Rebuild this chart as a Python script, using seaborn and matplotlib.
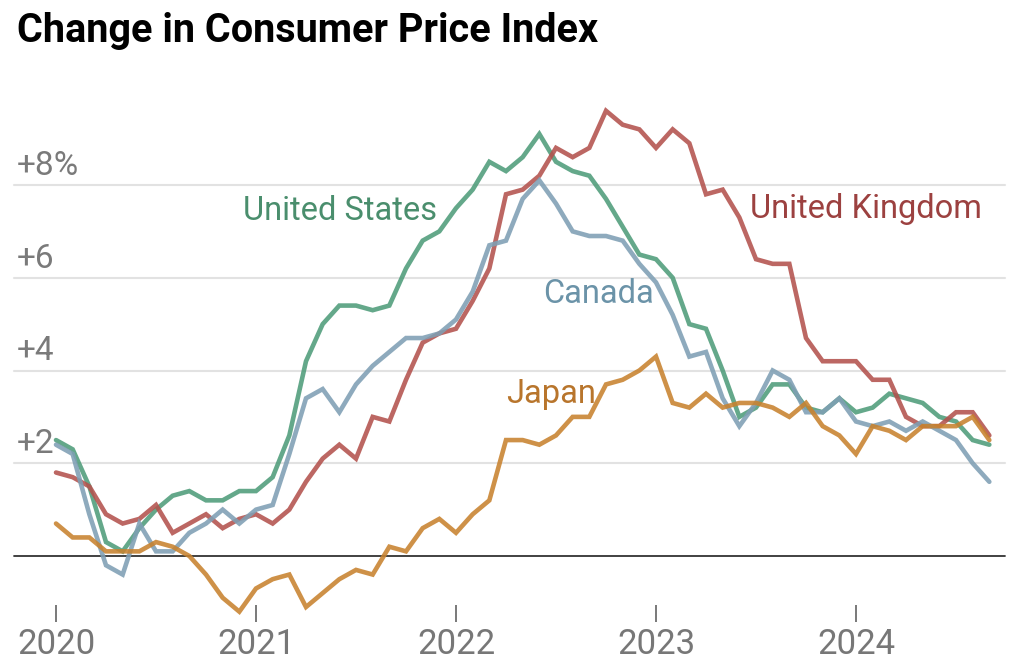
import numpy as np
import pandas as pd
import matplotlib
matplotlib.use("Agg")
import matplotlib.pyplot as plt
import matplotlib.transforms as mtransforms
from matplotlib import font_manager
import seaborn as sns

# ---------------- data (monthly, Jan 2020 - Sep 2024, % change y/y) ----------------
start_year = 2020
n_months = 57
united_states = [2.5, 2.3, 1.5, 0.3, 0.1, 0.6, 1.0, 1.3, 1.4, 1.2, 1.2, 1.4,
                 1.4, 1.7, 2.6, 4.2, 5.0, 5.4, 5.4, 5.3, 5.4, 6.2, 6.8, 7.0,
                 7.5, 7.9, 8.5, 8.3, 8.6, 9.1, 8.5, 8.3, 8.2, 7.7, 7.1, 6.5,
                 6.4, 6.0, 5.0, 4.9, 4.0, 3.0, 3.2, 3.7, 3.7, 3.2, 3.1, 3.4,
                 3.1, 3.2, 3.5, 3.4, 3.3, 3.0, 2.9, 2.5, 2.4]
united_kingdom = [1.8, 1.7, 1.5, 0.9, 0.7, 0.8, 1.1, 0.5, 0.7, 0.9, 0.6, 0.8,
                  0.9, 0.7, 1.0, 1.6, 2.1, 2.4, 2.1, 3.0, 2.9, 3.8, 4.6, 4.8,
                  4.9, 5.5, 6.2, 7.8, 7.9, 8.2, 8.8, 8.6, 8.8, 9.6, 9.3, 9.2,
                  8.8, 9.2, 8.9, 7.8, 7.9, 7.3, 6.4, 6.3, 6.3, 4.7, 4.2, 4.2,
                  4.2, 3.8, 3.8, 3.0, 2.8, 2.8, 3.1, 3.1, 2.6]
canada = [2.4, 2.2, 0.9, -0.2, -0.4, 0.7, 0.1, 0.1, 0.5, 0.7, 1.0, 0.7,
          1.0, 1.1, 2.2, 3.4, 3.6, 3.1, 3.7, 4.1, 4.4, 4.7, 4.7, 4.8,
          5.1, 5.7, 6.7, 6.8, 7.7, 8.1, 7.6, 7.0, 6.9, 6.9, 6.8, 6.3,
          5.9, 5.2, 4.3, 4.4, 3.4, 2.8, 3.3, 4.0, 3.8, 3.1, 3.1, 3.4,
          2.9, 2.8, 2.9, 2.7, 2.9, 2.7, 2.5, 2.0, 1.6]
japan = [0.7, 0.4, 0.4, 0.1, 0.1, 0.1, 0.3, 0.2, 0.0, -0.4, -0.9, -1.2,
         -0.7, -0.5, -0.4, -1.1, -0.8, -0.5, -0.3, -0.4, 0.2, 0.1, 0.6, 0.8,
         0.5, 0.9, 1.2, 2.5, 2.5, 2.4, 2.6, 3.0, 3.0, 3.7, 3.8, 4.0,
         4.3, 3.3, 3.2, 3.5, 3.2, 3.3, 3.3, 3.2, 3.0, 3.3, 2.8, 2.6,
         2.2, 2.8, 2.7, 2.5, 2.8, 2.8, 2.8, 3.0, 2.5]

countries = ["United States", "United Kingdom", "Canada", "Japan"]
series = [united_states, united_kingdom, canada, japan]
line_colors = ["#4f9c7a", "#b3524d", "#7f9fb4", "#c8822e"]
label_colors = ["#4a8e6d", "#9c4140", "#6b93a8", "#b8752c"]
year_ticks = [2020, 2021, 2022, 2023, 2024]
y_grid = [2, 4, 6, 8]
y_labels = ["+2", "+4", "+6", "+8%"]
title = "Change in Consumer Price Index"
# label anchor (left x in decimal years, baseline y in %)
label_pos = {"United States": (2020.935, 7.25), "United Kingdom": (2023.47, 7.29),
             "Canada": (2022.435, 5.46), "Japan": (2022.25, 3.30)}

# ---------------- fonts ----------------
installed = {f.name for f in font_manager.fontManager.ttflist}
def pick(*names):
    for n in names:
        if n in installed:
            return n
    return "DejaVu Sans"
title_font = pick("Liberation Sans Narrow", "Roboto")
body_font = pick("Roboto", "Lato", "Liberation Sans")

sns.set_theme(style="white")
plt.rcParams["font.family"] = [body_font, "DejaVu Sans"]

# ---------------- frame ----------------
months = np.arange(n_months)
x_dec = start_year + months / 12.0
df = pd.concat([pd.DataFrame({"date": x_dec, "cpi": s, "country": c})
                for c, s in zip(countries, series)], ignore_index=True)

W, H = 1024, 671
fig = plt.figure(figsize=(W / 100, H / 100), dpi=100)
left_px, right_px, top_px, bot_px = 14, 1005, 90, 622
ax = fig.add_axes([left_px / W, 1 - bot_px / H, (right_px - left_px) / W, (bot_px - top_px) / H])

px_per_year = 200.0
x0_px = 56
ax.set_xlim(2020 + (left_px - x0_px) / px_per_year, 2020 + (right_px - x0_px) / px_per_year)
zero_px, eight_px = 556, 185
ppu = (zero_px - eight_px) / 8.0
ax.set_ylim((zero_px - bot_px) / ppu, (zero_px - top_px) / ppu)

# gridlines
for v in y_grid:
    ax.axhline(v, color="#e2e2e2", lw=1.5, zorder=0)
ax.axhline(0, color="#333333", lw=1.3, zorder=1)

sns.lineplot(data=df, x="date", y="cpi", hue="country", hue_order=countries,
             palette=dict(zip(countries, line_colors)), lw=3.3, alpha=0.88,
             legend=False, ax=ax, zorder=3)
for ln in ax.lines:
    ln.set_clip_on(False)
    ln.set_solid_joinstyle("miter")

# y labels above gridlines
trans = mtransforms.blended_transform_factory(ax.transAxes, ax.transData)
for v, lab in zip(y_grid, y_labels):
    ax.text(3 / (right_px - left_px), v + 10 / ppu, lab, transform=trans,
            ha="left", va="baseline", fontsize=24, color="#7a7a7a")

# series labels
for c, col in zip(countries, label_colors):
    x, y = label_pos[c]
    ax.text(x, y, c, ha="left", va="baseline", fontsize=23.5, color=col, zorder=4)

# axes styling
for s in ax.spines.values():
    s.set_visible(False)
ax.set_yticks([])
ax.set_xticks(year_ticks)
ax.set_xticklabels([str(y) for y in year_ticks])
ax.tick_params(axis="x", direction="in", length=12.2, width=1.1, color="#555555",
               pad=4, labelsize=25, labelcolor="#777777", bottom=True)
ax.set_xlabel("")
ax.set_ylabel("")
ax.set_facecolor("white")

fig.text(17 / W, 1 - 42 / H, title, ha="left", va="baseline", fontsize=28.5,
         fontweight="bold", color="black", family=[title_font, "DejaVu Sans"])

fig.savefig("out.png", dpi=100, facecolor="white")
